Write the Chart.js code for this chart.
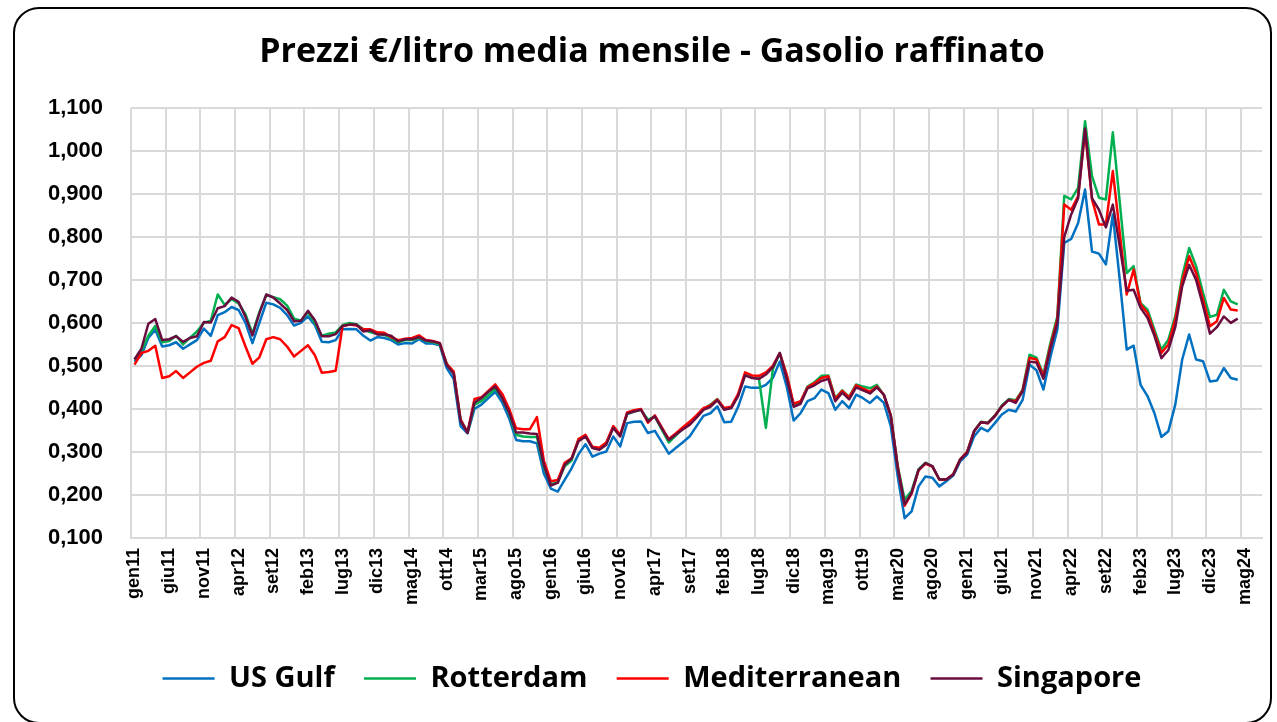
<!DOCTYPE html>
<html lang="it">
<head>
<meta charset="utf-8">
<title>Prezzi €/litro media mensile - Gasolio raffinato</title>
<script src="https://cdn.jsdelivr.net/npm/chart.js@4.4.1/dist/chart.umd.min.js"></script>
<style>
  html, body { margin: 0; padding: 0; background: #fff; overflow: hidden; }
  #wrap { position: relative; width: 1277px; height: 722px; overflow: hidden; }
  #chart { position: absolute; left: 0; top: 0; }
  #frame {
    position: absolute; left: 13px; top: 7px; width: 1259px; height: 717px;
    box-sizing: border-box; border: 2px solid #000; border-radius: 26px;
    pointer-events: none;
  }
</style>
</head>
<body>
<div id="wrap">
  <canvas id="chart" width="1277" height="722"></canvas>
  <div id="frame"></div>
</div>
<script>
// Categorie: mesi da gen11 a lug24 (dati fino ad apr24)
const monthNames = ['gen', 'feb', 'mar', 'apr', 'mag', 'giu', 'lug', 'ago', 'set', 'ott', 'nov', 'dic'];
const categories = [];
for (let y = 11; y <= 24; y++) {
    for (let m = 0; m < 12; m++) {
        if (y === 24 && m > 6) break;
        categories.push(monthNames[m] + y);
    }
}
const labelEvery = 5;

// Prezzi €/litro
const usGulf = [
    0.510, 0.525, 0.565, 0.584, 0.545, 0.548, 0.555, 0.540, 0.550, 0.560, 0.587, 0.570,
    0.618, 0.625, 0.637, 0.630, 0.600, 0.553, 0.600, 0.647, 0.643, 0.635, 0.618, 0.594,
    0.600, 0.615, 0.595, 0.556, 0.555, 0.560, 0.585, 0.586, 0.585, 0.570, 0.559, 0.567,
    0.565, 0.560, 0.550, 0.553, 0.552, 0.562, 0.552, 0.552, 0.548, 0.495, 0.470, 0.360,
    0.343, 0.400, 0.410, 0.425, 0.440, 0.415, 0.378, 0.328, 0.325, 0.325, 0.320, 0.250,
    0.215, 0.208, 0.235, 0.262, 0.295, 0.318, 0.289, 0.296, 0.301, 0.336, 0.313, 0.367,
    0.370, 0.371, 0.344, 0.349, 0.323, 0.296, 0.309, 0.322, 0.336, 0.360, 0.384, 0.390,
    0.406, 0.369, 0.370, 0.405, 0.452, 0.449, 0.449, 0.456, 0.472, 0.510, 0.452, 0.373,
    0.390, 0.418, 0.425, 0.445, 0.437, 0.398, 0.418, 0.402, 0.433, 0.425, 0.414, 0.429,
    0.414, 0.360, 0.243, 0.146, 0.162, 0.220, 0.243, 0.240, 0.220, 0.232, 0.245, 0.278,
    0.294, 0.336, 0.356, 0.348, 0.367, 0.387, 0.398, 0.394, 0.421, 0.503, 0.490, 0.445,
    0.520, 0.584, 0.786, 0.795, 0.832, 0.910, 0.766, 0.761, 0.736, 0.852, 0.700, 0.538,
    0.547, 0.456, 0.430, 0.390, 0.335, 0.348, 0.410, 0.515, 0.573, 0.515, 0.511, 0.464,
    0.466, 0.495, 0.472, 0.468
];
const rotterdam = [
    0.515, 0.535, 0.570, 0.593, 0.555, 0.558, 0.570, 0.550, 0.565, 0.580, 0.600, 0.605,
    0.666, 0.642, 0.655, 0.645, 0.620, 0.575, 0.625, 0.665, 0.660, 0.655, 0.640, 0.610,
    0.605, 0.625, 0.600, 0.570, 0.575, 0.578, 0.595, 0.600, 0.597, 0.585, 0.578, 0.575,
    0.572, 0.565, 0.555, 0.560, 0.560, 0.565, 0.558, 0.555, 0.550, 0.505, 0.485, 0.375,
    0.345, 0.410, 0.418, 0.432, 0.447, 0.425, 0.390, 0.340, 0.336, 0.335, 0.335, 0.265,
    0.225, 0.230, 0.267, 0.280, 0.330, 0.338, 0.310, 0.308, 0.320, 0.358, 0.338, 0.388,
    0.394, 0.398, 0.375, 0.382, 0.352, 0.322, 0.338, 0.355, 0.368, 0.383, 0.400, 0.410,
    0.423, 0.400, 0.403, 0.432, 0.480, 0.473, 0.470, 0.356, 0.492, 0.530, 0.478, 0.408,
    0.415, 0.452, 0.462, 0.477, 0.478, 0.425, 0.443, 0.428, 0.457, 0.452, 0.448, 0.456,
    0.432, 0.385, 0.268, 0.189, 0.210, 0.260, 0.275, 0.266, 0.236, 0.236, 0.248, 0.283,
    0.300, 0.348, 0.370, 0.368, 0.385, 0.408, 0.423, 0.420, 0.445, 0.526, 0.519, 0.480,
    0.553, 0.615, 0.895, 0.887, 0.914, 1.069, 0.941, 0.891, 0.887, 1.043, 0.880, 0.716,
    0.732, 0.646, 0.631, 0.584, 0.538, 0.561, 0.615, 0.708, 0.774, 0.732, 0.670, 0.614,
    0.619, 0.677, 0.650, 0.643
];
const mediterranean = [
    0.503, 0.530, 0.535, 0.547, 0.472, 0.476, 0.488, 0.472, 0.485, 0.498, 0.507, 0.512,
    0.557, 0.567, 0.595, 0.588, 0.545, 0.505, 0.520, 0.562, 0.567, 0.562, 0.545, 0.522,
    0.535, 0.548, 0.525, 0.484, 0.486, 0.489, 0.593, 0.596, 0.594, 0.585, 0.585, 0.578,
    0.577, 0.567, 0.560, 0.563, 0.565, 0.571, 0.560, 0.558, 0.553, 0.505, 0.487, 0.375,
    0.345, 0.423, 0.427, 0.442, 0.457, 0.435, 0.400, 0.355, 0.353, 0.353, 0.381, 0.280,
    0.232, 0.235, 0.275, 0.285, 0.330, 0.340, 0.312, 0.310, 0.322, 0.360, 0.340, 0.392,
    0.397, 0.400, 0.368, 0.385, 0.357, 0.330, 0.343, 0.357, 0.370, 0.385, 0.402, 0.408,
    0.422, 0.402, 0.405, 0.435, 0.485, 0.478, 0.477, 0.485, 0.500, 0.530, 0.480, 0.412,
    0.418, 0.450, 0.460, 0.472, 0.476, 0.423, 0.442, 0.427, 0.455, 0.447, 0.440, 0.452,
    0.433, 0.385, 0.265, 0.175, 0.203, 0.257, 0.273, 0.266, 0.236, 0.236, 0.248, 0.283,
    0.300, 0.348, 0.369, 0.367, 0.384, 0.406, 0.421, 0.418, 0.443, 0.519, 0.515, 0.476,
    0.546, 0.608, 0.875, 0.863, 0.895, 1.046, 0.887, 0.829, 0.829, 0.953, 0.810, 0.666,
    0.724, 0.643, 0.623, 0.577, 0.530, 0.550, 0.608, 0.697, 0.755, 0.716, 0.654, 0.592,
    0.604, 0.658, 0.631, 0.629
];
const singapore = [
    0.515, 0.540, 0.598, 0.609, 0.560, 0.562, 0.569, 0.556, 0.565, 0.569, 0.602, 0.601,
    0.634, 0.639, 0.659, 0.649, 0.614, 0.571, 0.622, 0.666, 0.659, 0.645, 0.630, 0.604,
    0.605, 0.628, 0.606, 0.569, 0.569, 0.574, 0.593, 0.596, 0.596, 0.580, 0.583, 0.573,
    0.573, 0.570, 0.557, 0.562, 0.562, 0.567, 0.559, 0.557, 0.553, 0.502, 0.482, 0.372,
    0.345, 0.415, 0.425, 0.440, 0.452, 0.425, 0.392, 0.345, 0.345, 0.343, 0.342, 0.270,
    0.222, 0.228, 0.270, 0.285, 0.325, 0.336, 0.309, 0.305, 0.317, 0.356, 0.336, 0.389,
    0.394, 0.398, 0.371, 0.383, 0.355, 0.328, 0.340, 0.352, 0.363, 0.380, 0.398, 0.405,
    0.420, 0.398, 0.402, 0.430, 0.478, 0.472, 0.470, 0.480, 0.497, 0.530, 0.470, 0.405,
    0.412, 0.448, 0.455, 0.465, 0.470, 0.418, 0.438, 0.422, 0.450, 0.443, 0.436, 0.450,
    0.433, 0.383, 0.263, 0.178, 0.205, 0.258, 0.274, 0.267, 0.236, 0.236, 0.247, 0.282,
    0.298, 0.348, 0.369, 0.367, 0.383, 0.406, 0.421, 0.414, 0.441, 0.510, 0.508, 0.470,
    0.540, 0.600, 0.800, 0.852, 0.890, 1.052, 0.890, 0.863, 0.822, 0.875, 0.778, 0.675,
    0.677, 0.635, 0.612, 0.570, 0.518, 0.537, 0.590, 0.685, 0.735, 0.700, 0.640, 0.575,
    0.590, 0.615, 0.600, 0.610
];

const colors = {
    usGulf: '#0070c0',
    rotterdam: '#00b050',
    mediterranean: '#ff0000',
    singapore: '#6a0d3e',
    grid: '#d9d9d9',
    text: '#000000'
};

function lineSeries(label, data, color, order) {
    return {
        label: label,
        data: data,
        borderColor: color,
        backgroundColor: color,
        borderWidth: 2.5,
        pointRadius: 0,
        pointHoverRadius: 0,
        tension: 0,
        fill: false,
        borderJoinStyle: 'round',
        order: order
    };
}

const ctx = document.getElementById('chart').getContext('2d');
new Chart(ctx, {
    type: 'line',
    data: {
        labels: categories,
        datasets: [
            lineSeries('US Gulf', usGulf, colors.usGulf, 4),
            lineSeries('Rotterdam', rotterdam, colors.rotterdam, 3),
            lineSeries('Mediterranean', mediterranean, colors.mediterranean, 2),
            lineSeries('Singapore', singapore, colors.singapore, 1)
        ]
    },
    options: {
        responsive: false,
        animation: false,
        devicePixelRatio: 1,
        layout: {
            padding: { left: 42, right: 15, top: 0, bottom: 19 }
        },
        scales: {
            x: {
                offset: true,
                grid: {
                    offset: true,
                    drawTicks: false,
                    lineWidth: 2,
                    color: function(c) {
                        return (c.index % labelEvery === 0 && c.index < categories.length) ? colors.grid : 'rgba(0,0,0,0)';
                    }
                },
                border: { color: colors.grid, width: 2 },
                ticks: {
                    autoSkip: false,
                    minRotation: 90,
                    maxRotation: 90,
                    padding: 10,
                    color: colors.text,
                    font: { family: "'Liberation Sans', Arial, sans-serif", size: 18, weight: 'bold' },
                    callback: function(value, index) {
                        return index % labelEvery === 0 ? categories[index] : '';
                    }
                },
                afterFit: function(scale) {
                    scale.height = 116;
                    // niente margine extra a destra per l'ultima etichetta
                    scale.paddingLeft = 0;
                    scale.paddingRight = 0;
                }
            },
            y: {
                min: 0.1,
                max: 1.1,
                grid: { color: colors.grid, lineWidth: 2, drawTicks: false },
                border: { display: false },
                ticks: {
                    stepSize: 0.1,
                    padding: 28,
                    color: colors.text,
                    font: { family: "'Liberation Sans', Arial, sans-serif", size: 22, weight: 'bold' },
                    callback: function(value) {
                        return value.toFixed(3).replace('.', ',');
                    }
                },
                afterFit: function(scale) { scale.width = 89; }
            }
        },
        plugins: {
            title: {
                display: true,
                text: 'Prezzi €/litro media mensile - Gasolio raffinato',
                color: colors.text,
                font: { family: "'Open Sans', sans-serif", size: 34, weight: 'bold' },
                padding: { top: 32, bottom: 35 }
            },
            legend: {
                display: true,
                position: 'bottom',
                labels: {
                    usePointStyle: true,
                    pointStyle: 'line',
                    pointStyleWidth: 52,
                    padding: 10,
                    color: colors.text,
                    font: { family: "'Open Sans', sans-serif", size: 29, weight: 'bold' },
                    generateLabels: function(chart) {
                        const items = Chart.defaults.plugins.legend.labels.generateLabels(chart);
                        items.sort(function(a, b) { return a.datasetIndex - b.datasetIndex; });
                        items.forEach(function(item, k) {
                            if (k < items.length - 1) item.text += '\u2002\u2009';
                        });
                        return items;
                    }
                }
            },
            tooltip: { enabled: false }
        }
    }
});
</script>
</body>
</html>
